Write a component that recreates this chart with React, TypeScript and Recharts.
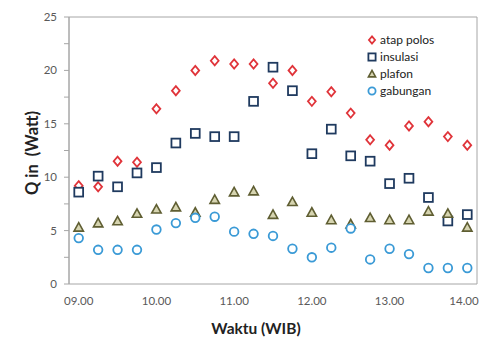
import { ScatterChart, Scatter, XAxis, YAxis, ReferenceArea } from "recharts"

const TIMES = [
    "09.00", "09.15", "09.30", "09.45", "10.00", "10.15", "10.30", "10.45", "11.00", "11.15", "11.30",
    "11.45", "12.00", "12.15", "12.30", "12.45", "13.00", "13.15", "13.30", "13.45", "14.00",
]
const ATAP_POLOS = [9.2, 9.1, 11.5, 11.4, 16.4, 18.1, 20.0, 20.9, 20.6, 20.6, 18.8, 20.0, 17.1, 18.0, 16.0, 13.5, 13.0, 14.8, 15.2, 13.8, 13.0]
const INSULASI = [8.6, 10.1, 9.1, 10.4, 10.9, 13.2, 14.1, 13.8, 13.8, 17.1, 20.3, 18.1, 12.2, 14.5, 12.0, 11.5, 9.4, 9.9, 8.1, 5.9, 6.5]
const PLAFON = [5.3, 5.7, 5.9, 6.6, 7.0, 7.2, 6.7, 7.9, 8.6, 8.7, 6.5, 7.7, 6.7, 6.0, 5.6, 6.2, 6.0, 6.0, 6.8, 6.6, 5.3]
const GABUNGAN = [4.3, 3.2, 3.2, 3.2, 5.1, 5.7, 6.2, 6.3, 4.9, 4.7, 4.5, 3.3, 2.5, 3.4, 5.2, 2.3, 3.3, 2.8, 1.5, 1.5, 1.5]

const HOUR_LABELS = ["09.00", "10.00", "11.00", "12.00", "13.00", "14.00"]
const Y_TICKS = [0, 2.5, 5, 7.5, 10, 12.5, 15, 17.5, 20, 22.5, 25]

const FONT = "Lato, 'Liberation Sans', sans-serif"
const AXIS_GRAY = "#a6a6a6"

const toHour = (t: string) => {
    const [h, m] = t.split(".").map(Number)
    return h + m / 60
}

const half = 0.125
const xDomain = [toHour(TIMES[0]) - half, toHour(TIMES[TIMES.length - 1]) + half]
// tick marks sit between categories, like the excel category axis
const betweenTicks = [...TIMES.map((t) => toHour(t) - half), toHour(TIMES[TIMES.length - 1]) + half]
const hourTicks = HOUR_LABELS.map(toHour)

const toPoints = (values: number[]) => TIMES.map((t, i) => ({ x: toHour(t), y: values[i] }))

const colors = {
    atap: "#e0343a",
    insulasi: "#1f3a5f",
    plafon: "#5f5e32",
    plafonFill: "#d6d4b0",
    gabungan: "#3a9ad6",
}

const Diamond = ({ cx, cy, s = 4.6 }: any) => (
    <polygon
        points={`${cx},${cy - s} ${cx + s * 0.85},${cy} ${cx},${cy + s} ${cx - s * 0.85},${cy}`}
        fill="#fff"
        stroke={colors.atap}
        strokeWidth={1.8}
    />
)
const Square = ({ cx, cy, s = 4.4 }: any) => (
    <rect x={cx - s} y={cy - s} width={s * 2} height={s * 2} fill="#fff" stroke={colors.insulasi} strokeWidth={1.8} />
)
const Triangle = ({ cx, cy, s = 4.7 }: any) => (
    <polygon
        points={`${cx},${cy - s} ${cx + s},${cy + s * 0.8} ${cx - s},${cy + s * 0.8}`}
        fill={colors.plafonFill}
        stroke={colors.plafon}
        strokeWidth={1.6}
    />
)
const Circle = ({ cx, cy, s = 4.3 }: any) => (
    <circle cx={cx} cy={cy} r={s} fill="#fff" stroke={colors.gabungan} strokeWidth={1.8} />
)

const legendItems = [
    { name: "atap polos", Icon: Diamond },
    { name: "insulasi", Icon: Square },
    { name: "plafon", Icon: Triangle },
    { name: "gabungan", Icon: Circle },
]

// hour label; the last one is pulled in so it stays inside the page
const HourTick = ({ x, y, payload }: any) => {
    const label = HOUR_LABELS[hourTicks.indexOf(payload.value)] ?? ""
    const cx = Math.min(x, 464)
    return (
        <text x={cx} y={y} dy="0.71em" textAnchor="middle" fill="#595959" fontSize={11.5} fontFamily={FONT}>
            {label}
        </text>
    )
}

export default function App() {
    return (
        <div style={{ position: "absolute", left: 0, top: 0, width: 480, height: 339, background: "#fff" }}>
            <ScatterChart width={480} height={339} margin={{ top: 17, right: 3, bottom: 0, left: 0 }}>
                <XAxis
                    xAxisId="marks"
                    type="number"
                    dataKey="x"
                    domain={xDomain}
                    ticks={betweenTicks}
                    tick={false}
                    tickLine={{ stroke: AXIS_GRAY }}
                    tickSize={5}
                    axisLine={{ stroke: AXIS_GRAY }}
                    height={0}
                    allowDataOverflow
                />
                <XAxis
                    xAxisId="hours"
                    type="number"
                    dataKey="x"
                    domain={xDomain}
                    ticks={hourTicks}
                    tick={<HourTick />}
                    tickLine={false}
                    axisLine={false}
                    tickMargin={7}
                    height={55}
                    allowDataOverflow
                />
                <YAxis
                    type="number"
                    dataKey="y"
                    domain={[0, 25]}
                    ticks={Y_TICKS}
                    interval={0}
                    tickFormatter={(v) => (v % 5 === 0 ? String(v) : "")}
                    tick={{ fill: "#595959", fontSize: 11.5, fontFamily: FONT }}
                    tickLine={{ stroke: AXIS_GRAY }}
                    tickSize={5}
                    tickMargin={7}
                    axisLine={{ stroke: AXIS_GRAY }}
                    width={69}
                />
                <ReferenceArea
                    xAxisId="hours"
                    x1={xDomain[0]}
                    x2={xDomain[1]}
                    y1={0}
                    y2={25}
                    fill="none"
                    stroke={AXIS_GRAY}
                    ifOverflow="visible"
                />
                <Scatter xAxisId="hours" name="atap polos" data={toPoints(ATAP_POLOS)} shape={(p: any) => <Diamond cx={p.cx} cy={p.cy} />} isAnimationActive={false} />
                <Scatter xAxisId="hours" name="insulasi" data={toPoints(INSULASI)} shape={(p: any) => <Square cx={p.cx} cy={p.cy} />} isAnimationActive={false} />
                <Scatter xAxisId="hours" name="plafon" data={toPoints(PLAFON)} shape={(p: any) => <Triangle cx={p.cx} cy={p.cy} />} isAnimationActive={false} />
                <Scatter xAxisId="hours" name="gabungan" data={toPoints(GABUNGAN)} shape={(p: any) => <Circle cx={p.cx} cy={p.cy} />} isAnimationActive={false} />
            </ScatterChart>

            {/* legend box inside the plot, top right */}
            <div style={{ position: "absolute", left: 366, top: 31, fontFamily: FONT, fontSize: 12, color: "#222" }}>
                {legendItems.map(({ name, Icon }) => (
                    <div key={name} style={{ display: "flex", alignItems: "center", height: 17 }}>
                        <svg width={12} height={12} style={{ marginRight: 2 }}>
                            <Icon cx={6} cy={6} s={3.6} />
                        </svg>
                        <span>{name}</span>
                    </div>
                ))}
            </div>

            <div
                style={{
                    position: "absolute",
                    left: 32,
                    top: 153,
                    transform: "translate(-50%, -50%) rotate(-90deg)",
                    whiteSpace: "pre",
                    fontFamily: FONT,
                    fontWeight: "bold",
                    fontSize: 16.5,
                    color: "#222",
                }}
            >
                Q in  (Watt)
            </div>
            <div
                style={{
                    position: "absolute",
                    left: 256,
                    top: 328,
                    transform: "translate(-50%, -50%)",
                    whiteSpace: "pre",
                    fontFamily: FONT,
                    fontWeight: "bold",
                    fontSize: 15.5,
                    color: "#222",
                }}
            >
                Waktu (WIB)
            </div>
        </div>
    )
}
